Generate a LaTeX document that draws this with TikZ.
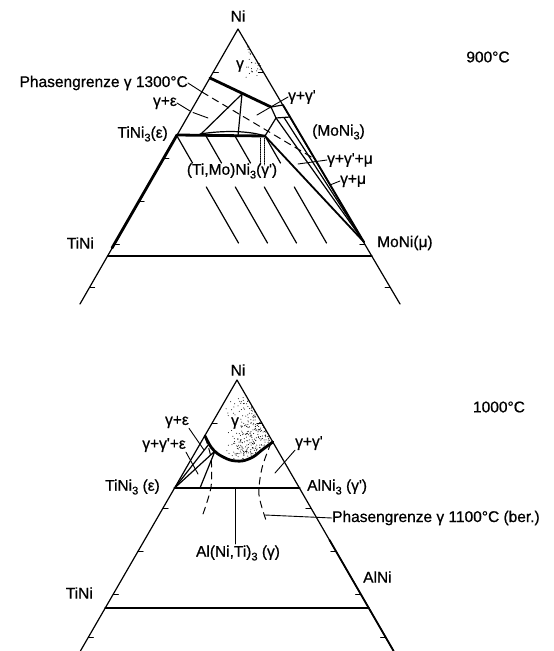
\documentclass[tikz,border=0pt]{standalone}
\usepackage{fontspec}
\setmainfont{Liberation Sans}
\newfontfamily\lblfont{Liberation Sans}[FakeBold=0.7]
\newcommand\sbs[1]{\raisebox{-0.45ex}{\fontsize{11}{11}\selectfont #1}}
\begin{document}
\begin{tikzpicture}[x=1pt,y=-1pt,line cap=round,line join=round,
  lbl/.style={font=\lblfont\fontsize{15.5}{15.5}\selectfont,inner sep=0pt},
  edge/.style={line width=1.2pt},
  bold/.style={line width=2.8pt},
  semibold/.style={line width=1.8pt},
  tickmark/.style={line width=1pt},
  leader/.style={line width=0.9pt},
  dashln/.style={line width=1pt,dash pattern=on 7pt off 5pt}]
\useasboundingbox (0,0) rectangle (554,651);

% ================= TOP DIAGRAM (900 C) =================
\coordinate (NiA) at (238,29);
\coordinate (BLa) at (80,304);
\coordinate (BRa) at (400,304);
\coordinate (TiNi3a) at (177,135);
\coordinate (LThk) at (112,248);
\coordinate (MoNi) at (364,242);
\coordinate (G2) at (265,136);
\coordinate (P) at (242,94);
\coordinate (B1) at (210,78);
\coordinate (Q1) at (271,107);
\coordinate (Q2) at (283,105);
\coordinate (Q3) at (290,117);
\coordinate (Q4) at (276,118);
\coordinate (Q5) at (284,117.5);
\coordinate (H1) at (107.5,256);
\coordinate (H2) at (372,256);
\coordinate (PGa) at (202,92);
\coordinate (PGb) at (313,158);

% sparse stipple
\begin{scope}
\clip (NiA) -- (210,78) -- (270,78) -- cycle;
\pgfmathsetseed{11}
\foreach \i in {1,...,40}{
  \pgfmathsetmacro\u{rnd}\pgfmathsetmacro\v{rnd}
  \fill ({246+18*\u},{44+40*\v}) circle (0.5);
}
\end{scope}

\draw[edge] (BLa) -- (NiA) -- (BRa);
\draw[bold] (TiNi3a) -- (LThk);
\draw[semibold] (Q2) -- (MoNi);
\draw[edge] (H1) -- (H2);

% gamma' line
\draw[bold] (TiNi3a) -- (G2);
\draw[edge] (200,134) .. controls (225,130) and (250,131) .. (G2);
% gamma boundary
\draw[bold] (B1) -- (Q1);
\draw[edge] (Q1) -- (Q2);
\draw[edge] (Q3) -- (Q4) -- (Q1);
\draw[edge] (200,135) -- (P) -- (238,136);
\draw[edge] (G2) -- (Q4);
\draw[semibold] (G2) -- (MoNi);
\draw[edge] (Q4) -- (MoNi);
\draw[edge] (Q5) -- (MoNi);
% tie lines
\foreach \x in {177,206,235,265}{
  \draw[edge] (\x,136) -- ({\x+15.5},163);
  \draw[edge] ({\x+29.3},187) -- ({\x+61.5},243);
}
\draw[densely dotted,line width=0.8pt] (260,138) -- (260,165);
\draw[densely dotted,line width=0.8pt] (264,138) -- (264,165);

% ticks
\foreach \y in {72,158,201,244,287}
  \draw[tickmark] ({238-0.575*(\y-29)},\y) -- ++(5,0);
\foreach \y in {72,244,287}
  \draw[tickmark] ({238+0.59*(\y-29)},\y) -- ++(-5,0);

% labels
\node[lbl] (lNiA) at (238,16) {Ni};
\node[lbl] (lgA) at (240,66) {γ};
\node[lbl] (l900) at (488,57) {900°C};
\node[lbl,anchor=east] (lPGA) at (188,83) {Phasengrenze γ 1300°C};
\node[lbl,anchor=east] (lgeA) at (177,103) {γ+ε};
\node[lbl,anchor=east] (lTiNi3A) at (168,134) {TiNi\sbs{3}(ε)};
\node[lbl,anchor=east] (lTiNiA) at (94,243) {TiNi};
\node[lbl,anchor=west] (lMoNi) at (377,243) {MoNi(μ)};
\node[lbl,anchor=west] (lggA) at (288,97) {γ+γ'};
\node[lbl,anchor=west] (lMoNi3) at (312,132) {(MoNi\sbs{3})};
\node[lbl,anchor=west] (lggm) at (327,160) {γ+γ'+μ};
\node[lbl,anchor=west] (lgm) at (340,181) {γ+μ};
\node[lbl] (lTiMo) at (232,171) {(Ti,Mo)Ni\sbs{3}(γ')};

\coordinate (kGE) at (190,111);
\coordinate (kGEb) at (208,118);
\draw[leader] (lgeA.east) -- (kGE);
\draw[leader] (193,112.5) -- (kGEb);
\draw[leader] (lPGA.east) -- (PGa);
\draw[dashln] (PGa) -- (PGb);
\coordinate (kGG) at (257,115);
\draw[leader] (lggA.west) -- (kGG);
\coordinate (kGGM) at (298,164);
\draw[leader] (lggm.west) -- (kGGM);
\coordinate (kGM) at (330,185);
\draw[leader] (lgm.west) -- (kGM);

% ================= BOTTOM DIAGRAM (1000 C) =================
\coordinate (NiB) at (237,380);
\coordinate (BLb) at (80.4,651);
\coordinate (BRb) at (393.6,651);
\coordinate (TiNi3b) at (174.6,488);
\coordinate (AlNi3) at (299.4,488);
\coordinate (RThk) at (329.5,540);
\coordinate (P2) at (215,451);
\coordinate (P3) at (200,488);
\coordinate (P4) at (209,444);
\coordinate (H3) at (105,608);
\coordinate (H4) at (369,608);

\begin{scope}
\clip (NiB) -- plot[smooth] coordinates {(205,436) (211,447) (218,454) (230,460) (242,461) (253,457) (262,450) (272.8,442)} -- cycle;
\pgfmathsetseed{7}
\foreach \i in {1,...,480}{
  \pgfmathsetmacro\u{rnd}\pgfmathsetmacro\v{rnd}
  \fill ({226+48*(\u)^0.6},{396+64*(\v)^0.8}) circle (0.5);
}
\end{scope}

\draw[edge] (BLb) -- (NiB) -- (BRb);
\draw[semibold] (RThk) -- (BRb);
\draw[bold] (TiNi3b) -- (AlNi3);
\draw[edge] (H3) -- (H4);
\draw[bold] plot[smooth] coordinates {(205,436) (211,447) (218,454) (230,460) (242,461) (253,457) (262,450) (272.8,442)};
\draw[edge] (TiNi3b) -- (P2) -- (P3);
\draw[edge] (TiNi3b) -- (P4);
\draw[dashln] plot[smooth] coordinates {(205,437) (211,458) (211,487) (203,514)};
\draw[dashln] plot[smooth] coordinates {(271,443) (262,468) (259,495) (267,523)};

\foreach \y in {423,508,551,594,637}{
  \draw[tickmark] ({237-0.578*(\y-380)},\y) -- ++(5,0);
  \draw[tickmark] ({237+0.578*(\y-380)},\y) -- ++(-5,0);
}

\node[lbl] (lNiB) at (238,370) {Ni};
\node[lbl,fill=white,inner sep=1pt] (lgB) at (235,423) {γ};
\node[lbl] (l1000) at (499,407) {1000°C};
\node[lbl,anchor=east] (lgeB) at (189,422) {γ+ε};
\node[lbl,anchor=east] (lggeB) at (186,445) {γ+γ'+ε};
\node[lbl,anchor=west] (lggB) at (295,443) {γ+γ'};
\node[lbl,anchor=east] (lTiNi3B) at (160,487) {TiNi\sbs{3} (ε)};
\node[lbl,anchor=west] (lAlNi3) at (307,487) {AlNi\sbs{3} (γ')};
\node[lbl,anchor=west] (lPGB) at (332,518) {Phasengrenze γ 1100°C (ber.)};
\node[lbl] (lAlNiTi) at (238,553) {Al(Ni,Ti)\sbs{3} (γ)};
\node[lbl,anchor=east] (lTiNiB) at (93,593) {TiNi};
\node[lbl,anchor=west] (lAlNi) at (363,577) {AlNi};

\coordinate (kB1) at (204,450);
\draw[leader] (lgeB.south east) -- (kB1);
\coordinate (kB2) at (198,474);
\draw[leader] (lggeB.south east) -- (kB2);
\coordinate (kB3) at (275,473);
\draw[leader] (lggB.south west) -- (kB3);
\coordinate (kB4) at (265,515);
\draw[leader] (lPGB.west) -- (kB4);
\coordinate (kB5) at (235,488);
\draw[leader] (235,544) -- (kB5);
\end{tikzpicture}
\end{document}
